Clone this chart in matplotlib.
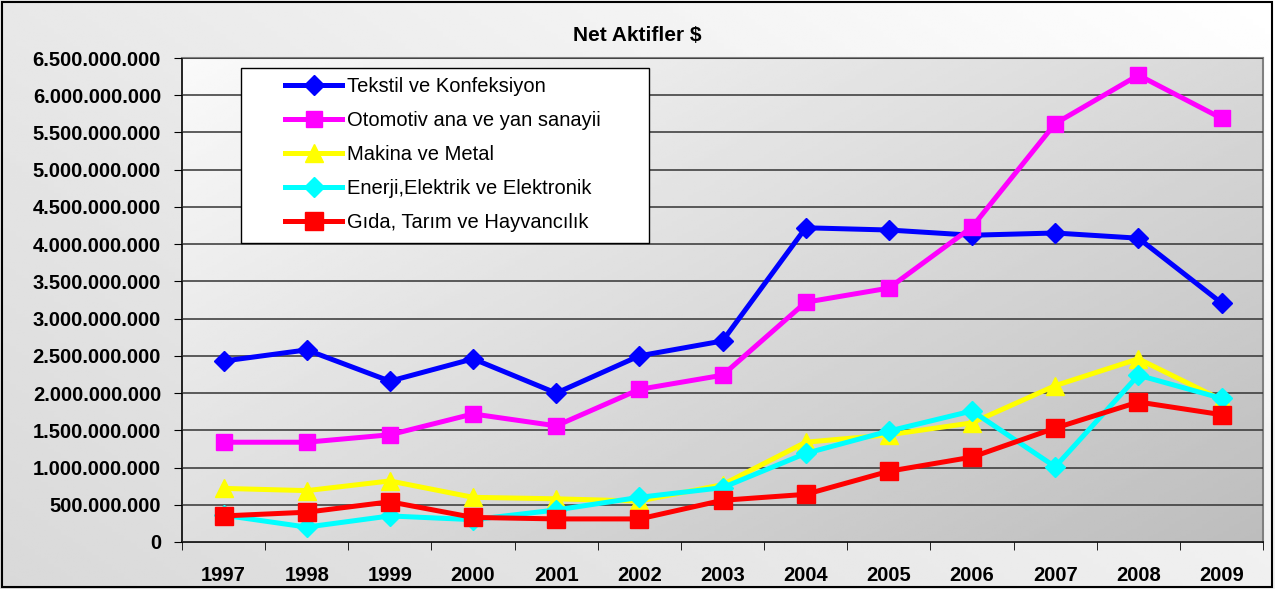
import numpy as np
import matplotlib.pyplot as plt
from matplotlib.ticker import FuncFormatter, FixedLocator

years = [1997, 1998, 1999, 2000, 2001, 2002, 2003, 2004, 2005, 2006, 2007, 2008, 2009]

tekstil = [2.43, 2.58, 2.16, 2.46, 2.00, 2.50, 2.70, 4.22, 4.19, 4.12, 4.15, 4.08, 3.21]
otomotiv = [1.34, 1.34, 1.44, 1.72, 1.56, 2.05, 2.24, 3.22, 3.41, 4.23, 5.62, 6.27, 5.69]
makina = [0.72, 0.69, 0.82, 0.60, 0.58, 0.55, 0.77, 1.34, 1.44, 1.60, 2.10, 2.46, 1.91]
enerji = [0.36, 0.20, 0.35, 0.30, 0.43, 0.60, 0.73, 1.19, 1.49, 1.76, 1.01, 2.24, 1.93]
gida = [0.35, 0.40, 0.54, 0.33, 0.31, 0.31, 0.56, 0.64, 0.95, 1.14, 1.53, 1.88, 1.71]

labels = ["Tekstil ve Konfeksiyon", "Otomotiv ana ve yan sanayii", "Makina ve Metal",
          "Enerji,Elektrik ve Elektronik", "Gıda, Tarım ve Hayvancılık"]

plt.rcParams['font.family'] = ['Liberation Sans', 'DejaVu Sans']

fig = plt.figure(figsize=(12.75, 5.89), dpi=100)

# arka plan gradyanı (figür)
bg = fig.add_axes([0, 0, 1, 1], zorder=-10)
xx, yy = np.meshgrid(np.linspace(0, 1, 200), np.linspace(0, 1, 200))
g = 0.85 + 0.15 * (0.6 * xx + 0.4 * yy)
bg.imshow(np.clip(g, 0, 1), cmap='gray', vmin=0, vmax=1, extent=[0, 1, 0, 1],
          origin='lower', aspect='auto')
bg.set_xlim(0, 1)
bg.set_ylim(0, 1)
bg.axis('off')
bg.add_patch(plt.Rectangle((0.0015, 0.003), 0.996, 0.993, fill=False, ec='black', lw=1.5))

ax = fig.add_axes([0.1427, 0.0798, 0.848, 0.8217])
x = np.arange(len(years))

# çizim alanı gradyanı
g2 = 0.98 - 0.24 * (0.55 * xx + 0.45 * (1 - yy))
ax.imshow(g2, cmap='gray', vmin=0, vmax=1, extent=[-0.5, 12.5, 0, 6.5],
          origin='lower', aspect='auto', zorder=0)

ax.plot(x, tekstil, color='#0000ff', lw=3.6, marker='D', ms=10, label=labels[0], zorder=5)
ax.plot(x, otomotiv, color='#ff00ff', lw=3.6, marker='s', ms=11, label=labels[1], zorder=5)
ax.plot(x, makina, color='#ffff00', lw=3.6, marker='^', ms=13, label=labels[2], zorder=4)
ax.plot(x, enerji, color='#00ffff', lw=3.6, marker='D', ms=10, label=labels[3], zorder=5)
ax.plot(x, gida, color='#ff0000', lw=3.6, marker='s', ms=13, label=labels[4], zorder=6)

ax.set_xlim(-0.5, 12.5)
ax.set_ylim(0, 6.5)
ax.set_yticks(np.arange(0, 6.51, 0.5))
ax.yaxis.set_major_formatter(FuncFormatter(
    lambda v, p: '0' if v == 0 else f"{int(round(v * 1e9)):,}".replace(',', '.')))
ax.grid(axis='y', color='#333333', lw=1.1, zorder=1)
ax.set_axisbelow(False)

ax.set_xticks(x)
ax.set_xticklabels([str(y) for y in years])
ax.xaxis.set_minor_locator(FixedLocator(np.arange(-0.5, 13, 1)))
ax.tick_params(axis='x', which='major', length=0, pad=17)
ax.tick_params(axis='x', which='minor', length=6, direction='out', color='black')
ax.tick_params(axis='y', length=6, direction='out', pad=9)
for lab in ax.get_xticklabels() + ax.get_yticklabels():
    lab.set_fontsize(14.5)
    lab.set_fontweight('bold')

for s in ['top', 'right']:
    ax.spines[s].set_color('#808080')
    ax.spines[s].set_linewidth(1.5)
for s in ['left', 'bottom']:
    ax.spines[s].set_color('black')
    ax.spines[s].set_linewidth(1.2)

fig.text(0.5, 0.94, "Net Aktifler $", ha='center', va='center', fontsize=15, fontweight='bold')

# lejant kutusu
box = plt.Rectangle((0.0546, 0.618), 0.377, 0.361, transform=ax.transAxes,
                    fc='white', ec='black', lw=1.0, zorder=9)
ax.add_patch(box)
leg = ax.legend(loc='upper left', bbox_to_anchor=(0.092, 0.97), borderaxespad=0,
                fontsize=14.5, frameon=False, handlelength=2.8, handletextpad=0.25,
                labelspacing=0.75, borderpad=0.2)
leg.set_zorder(10)

plt.savefig('out.png', dpi=100)
